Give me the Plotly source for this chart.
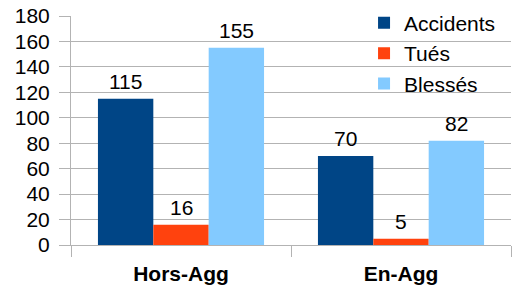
import plotly.graph_objects as go

categories = ["Hors-Agg", "En-Agg"]
accidents = [115, 70]
tues = [16, 5]
blesses = [155, 82]
yticks = list(range(0, 181, 20))

FONT = "Liberation Sans"
GRID = "#b3b3b3"
FS = 21
BARGAP = 0.245

series = [("Accidents", accidents, "#004586"),
          ("Tués", tues, "#ff420e"),
          ("Blessés", blesses, "#83caff")]

fig = go.Figure()
for name, vals, color in series:
    fig.add_trace(go.Bar(
        name=name, x=categories, y=vals, marker_color=color,
        marker_line_width=0,
    ))

# value labels above the bars (category index + group offset)
w = (1 - BARGAP) / len(series)
for k, (name, vals, color) in enumerate(series):
    off = (k - (len(series) - 1) / 2) * w
    for i, v in enumerate(vals):
        fig.add_annotation(x=i + off, y=v, text=str(v), showarrow=False,
                           yanchor="bottom", xanchor="center", yshift=4,
                           font=dict(family=FONT, size=FS, color="black"))

fig.update_layout(
    width=519, height=291,
    margin=dict(l=71, r=8, t=16, b=46, autoexpand=False),
    paper_bgcolor="white", plot_bgcolor="white",
    barmode="group", bargap=BARGAP, bargroupgap=0,
    font=dict(family=FONT, size=FS, color="black"),
    legend=dict(x=0.666, y=1.058, xanchor="left", yanchor="top",
                bgcolor="rgba(0,0,0,0)", font=dict(size=FS),
                itemwidth=30, tracegroupgap=0),
    showlegend=True,
)
fig.update_xaxes(
    type="category", tickson="boundaries", ticks="outside", ticklen=11,
    tickcolor=GRID, showgrid=False, showline=True, linecolor=GRID,
    tickfont=dict(family=FONT, size=FS, color="black", weight="bold"),
    ticklabelstandoff=10, automargin=False,
)
fig.update_yaxes(
    range=[0, 180], tickvals=yticks, ticks="outside", ticklen=11,
    tickcolor=GRID, showgrid=True, gridcolor=GRID, showline=True,
    linecolor=GRID, zeroline=False, automargin=False,
    tickfont=dict(family=FONT, size=FS, color="black"),
    ticklabelstandoff=5, ticklabeloverflow="allow",
)
fig.write_html("out.html", config={"displayModeBar": False},
               post_script="document.body.style.margin='0px';")
